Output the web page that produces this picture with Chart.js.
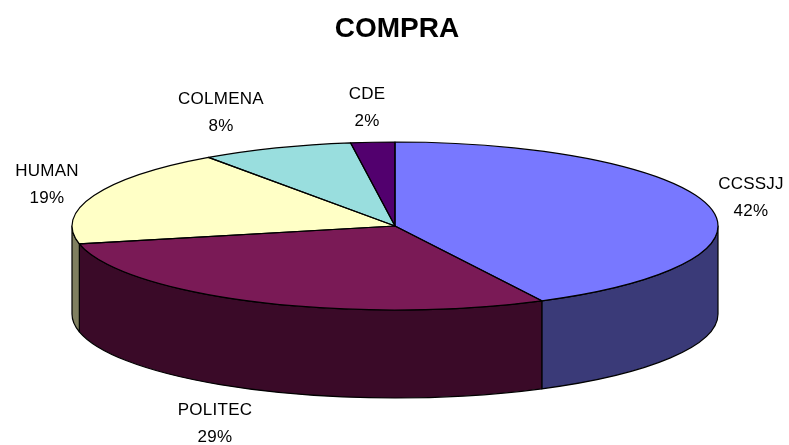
<!DOCTYPE html>
<html>
<head>
<meta charset="utf-8">
<style>html,body{margin:0;padding:0;background:#fff;overflow:hidden}canvas{display:block}</style>
<script src="https://cdn.jsdelivr.net/npm/chart.js@4"></script>
</head>
<body>
<canvas id="c" width="789" height="445"></canvas>
<script>
const categories = ['CCSSJJ', 'POLITEC', 'HUMAN', 'COLMENA', 'CDE'];
const shares = [42.49, 29.11, 18.6, 7.6, 2.2];
const topColors = ['#7878FF', '#7A1A56', '#FFFFC6', '#99DEDE', '#52006E'];
const wallColors = ['#3A3A78', '#3A0A28', '#808060', '#4A6E6E', '#28003A'];
const chartTitle = 'COMPRA';

// Projection of the flat pie onto the tilted disc
const disc = { cx: 395, cy: 226, rx: 323, ry: 84, depth: 88 };
// Label centres (name line), as placed in the reference
const labelSpots = [[751, 184], [215, 410], [47, 171], [221, 99], [367, 94]];

function project(ctx, arc) {
  ctx.translate(disc.cx, disc.cy);
  ctx.scale(disc.rx / arc.outerRadius, disc.ry / arc.outerRadius);
  ctx.translate(-arc.x, -arc.y);
}

const tiltedPie = {
  id: 'tiltedPie',
  beforeDatasetsDraw(chart) {
    const ctx = chart.ctx;
    const arcs = chart.getDatasetMeta(0).data;
    ctx.save();
    ctx.lineWidth = 1.2;
    ctx.strokeStyle = '#000';
    ctx.lineJoin = 'round';
    arcs.forEach((arc, i) => {
      const a0 = Math.max(arc.startAngle, 0);
      const a1 = Math.min(arc.endAngle, Math.PI);
      if (a1 <= a0) return;
      ctx.beginPath();
      ctx.ellipse(disc.cx, disc.cy, disc.rx, disc.ry, 0, a0, a1);
      ctx.ellipse(disc.cx, disc.cy + disc.depth, disc.rx, disc.ry, 0, a1, a0, true);
      ctx.closePath();
      ctx.fillStyle = wallColors[i];
      ctx.fill();
      ctx.stroke();
    });
    ctx.restore();
    ctx.save();
    project(ctx, arcs[0]);
  },
  afterDatasetsDraw(chart) {
    const ctx = chart.ctx;
    ctx.restore();
    const arcs = chart.getDatasetMeta(0).data;
    ctx.save();
    ctx.lineWidth = 1.2;
    ctx.strokeStyle = '#000';
    ctx.lineJoin = 'round';
    arcs.forEach(arc => {
      ctx.beginPath();
      ctx.moveTo(disc.cx, disc.cy);
      ctx.ellipse(disc.cx, disc.cy, disc.rx, disc.ry, 0, arc.startAngle, arc.endAngle);
      ctx.closePath();
      ctx.stroke();
    });
    ctx.fillStyle = '#000';
    ctx.font = '17px "Liberation Sans", Arial, sans-serif';
    ctx.letterSpacing = '0.25px';
    ctx.textAlign = 'center';
    ctx.textBaseline = 'middle';
    categories.forEach((name, i) => {
      const [x, y] = labelSpots[i];
      ctx.fillText(name, x, y + 0.5);
      ctx.fillText(Math.round(shares[i]) + '%', x, y + 27.5);
    });
    ctx.restore();
  }
};

new Chart(document.getElementById('c'), {
  type: 'pie',
  data: {
    labels: categories,
    datasets: [{ data: shares, backgroundColor: topColors, borderWidth: 0 }]
  },
  options: {
    responsive: false,
    animation: false,
    layout: { padding: { left: 5, right: 0, top: 0, bottom: 20 } },
    plugins: {
      legend: { display: false },
      tooltip: { enabled: false },
      title: {
        display: true,
        text: chartTitle,
        color: '#000',
        font: { family: '"Liberation Sans", Arial, sans-serif', size: 28, weight: 'bold' },
        padding: { top: 12, bottom: 10 }
      }
    }
  },
  plugins: [tiltedPie]
});
</script>
</body>
</html>
